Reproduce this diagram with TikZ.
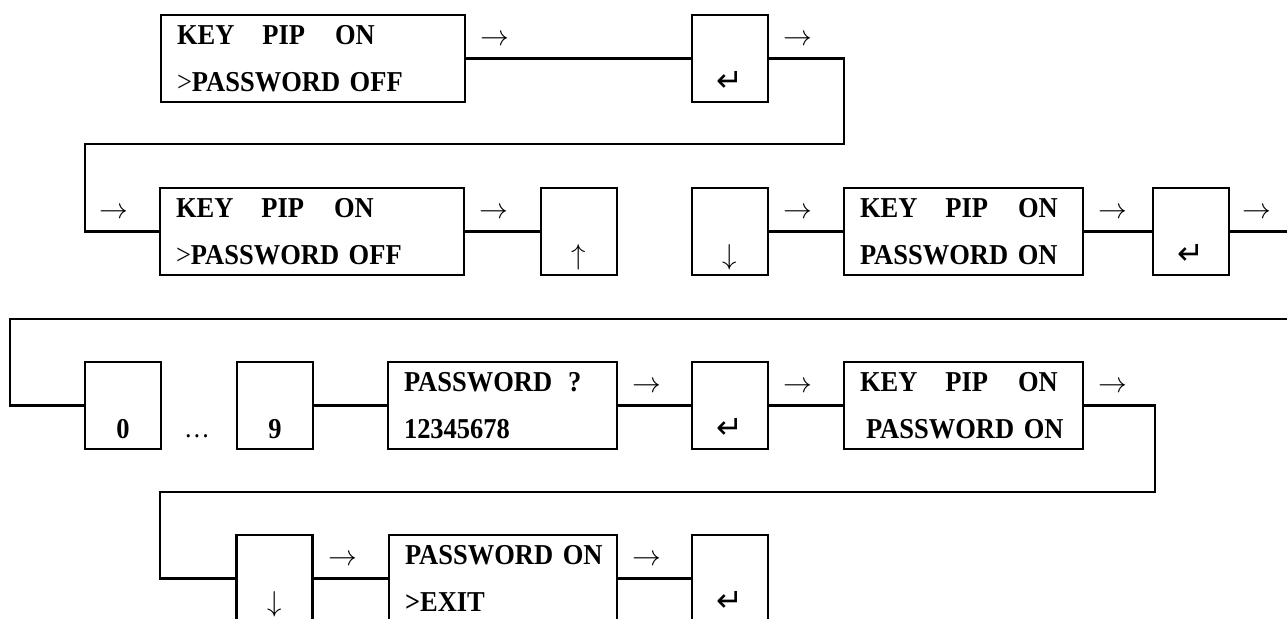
\documentclass[tikz,border=0pt]{standalone}
\usepackage{fontspec}
\setmainfont{Liberation Serif}[FakeStretch=0.92]
\newfontfamily\symfont{DejaVu Sans}
\newcommand{\retkey}{{\symfont\mdseries\fontsize{16}{16}\selectfont ↵}}
\newcommand{\keylabel}[1]{\vphantom{K}\\\vphantom{K}\smash{#1}}

\begin{document}
\begin{tikzpicture}[x=0.5pt,y=-0.5pt,line width=1.1pt,
  scrbox/.style={draw,rectangle,minimum height=43.5pt,inner xsep=8pt,inner ysep=0pt,align=left,
    font=\bfseries\fontsize{14.4}{23.5}\selectfont},
  keybox/.style={draw,rectangle,minimum width=38pt,minimum height=43.5pt,inner sep=0pt,
    align=center,font=\bfseries\fontsize{14.4}{23.5}\selectfont},
  arr/.style={inner sep=0pt,font=\fontsize{15}{15}\selectfont}]
\useasboundingbox (0,0) rectangle (1287,619);

% row 1
\node[scrbox,text width=136pt] (scr1) at (313,58.5)
  {\mbox{KEY\hspace{14pt}PIP\hspace{15pt}ON}\\\mbox{{\mdseries >}PASSWORD OFF}};
\node[keybox] (ent1) at (730,58.5) {\keylabel{\retkey}};

% row 2
\node[scrbox,text width=136pt] (scr2) at (312,231.5)
  {\mbox{KEY\hspace{14pt}PIP\hspace{15pt}ON}\\\mbox{{\mdseries >}PASSWORD OFF}};
\node[keybox] (up1) at (579,231.5) {\keylabel{$\uparrow$}};
\node[keybox] (dn1) at (730,231.5) {\keylabel{$\downarrow$}};
\node[scrbox,text width=103.5pt] (scr3) at (963.5,231.5)
  {\mbox{KEY\hspace{14pt}PIP\hspace{15pt}ON}\\\mbox{PASSWORD ON}};
\node[keybox] (ent2) at (1191,231.5) {\keylabel{\retkey}};

% row 3
\node[keybox] (dig0) at (123,405.5) {\keylabel{0}};
\node[anchor=base,inner sep=0pt,font=\fontsize{14}{14}\selectfont] (dots) at (197,438) {…};
\node[keybox] (dig9) at (275,405.5) {\keylabel{9}};
\node[scrbox,text width=98.5pt] (scr4) at (502.5,405.5)
  {\mbox{PASSWORD\hspace{8pt}?}\\12345678};
\node[keybox] (ent3) at (730,405.5) {\keylabel{\retkey}};
\node[scrbox,text width=103.5pt] (scr5) at (963.5,405.5)
  {\mbox{KEY\hspace{14pt}PIP\hspace{15pt}ON}\\\mbox{\hspace{3pt}PASSWORD ON}};

% row 4
\node[scrbox,text width=98pt] (scr6) at (503,578.5)
  {\mbox{PASSWORD ON}\\>EXIT};
\node[keybox] (dn2) at (274.5,578.5) {\keylabel{$\downarrow$}};
\node[keybox] (ent4) at (730,578.5) {\keylabel{\retkey}};

% arrows over the lines
\foreach \x/\y [count=\i] in {495/40,798/40,114/213,494/213,798/213,1113/213,1257/213,
    647/387,798/387,1113/387,343/560,647/560}
  \node[arr] (arr\i) at (\x,\y) {$\rightarrow$};

% turning points
\coordinate (c1) at (844,144);
\coordinate (c2) at (85,144);
\coordinate (c3) at (1287,231.5);
\coordinate (c4) at (1287,319);
\coordinate (c5) at (10,319);
\coordinate (c6) at (1155,492);
\coordinate (c7) at (160,492);

\draw (scr1.east) -- (ent1.west);
\draw (ent1.east) -| (c1) -- (c2) |- (scr2.west);
\draw (scr2.east) -- (up1.west);
\draw (dn1.east) -- (scr3.west);
\draw (scr3.east) -- (ent2.west);
\draw (ent2.east) -- (c3);
\draw (c4) -- (c5) |- (dig0.west);
\draw (dig9.east) -- (scr4.west);
\draw (scr4.east) -- (ent3.west);
\draw (ent3.east) -- (scr5.west);
\draw (scr5.east) -| (c6) -- (c7) |- (dn2.west);
\draw (dn2.east) -- (scr6.west);
\draw (scr6.east) -- (ent4.west);

\end{tikzpicture}
\end{document}
